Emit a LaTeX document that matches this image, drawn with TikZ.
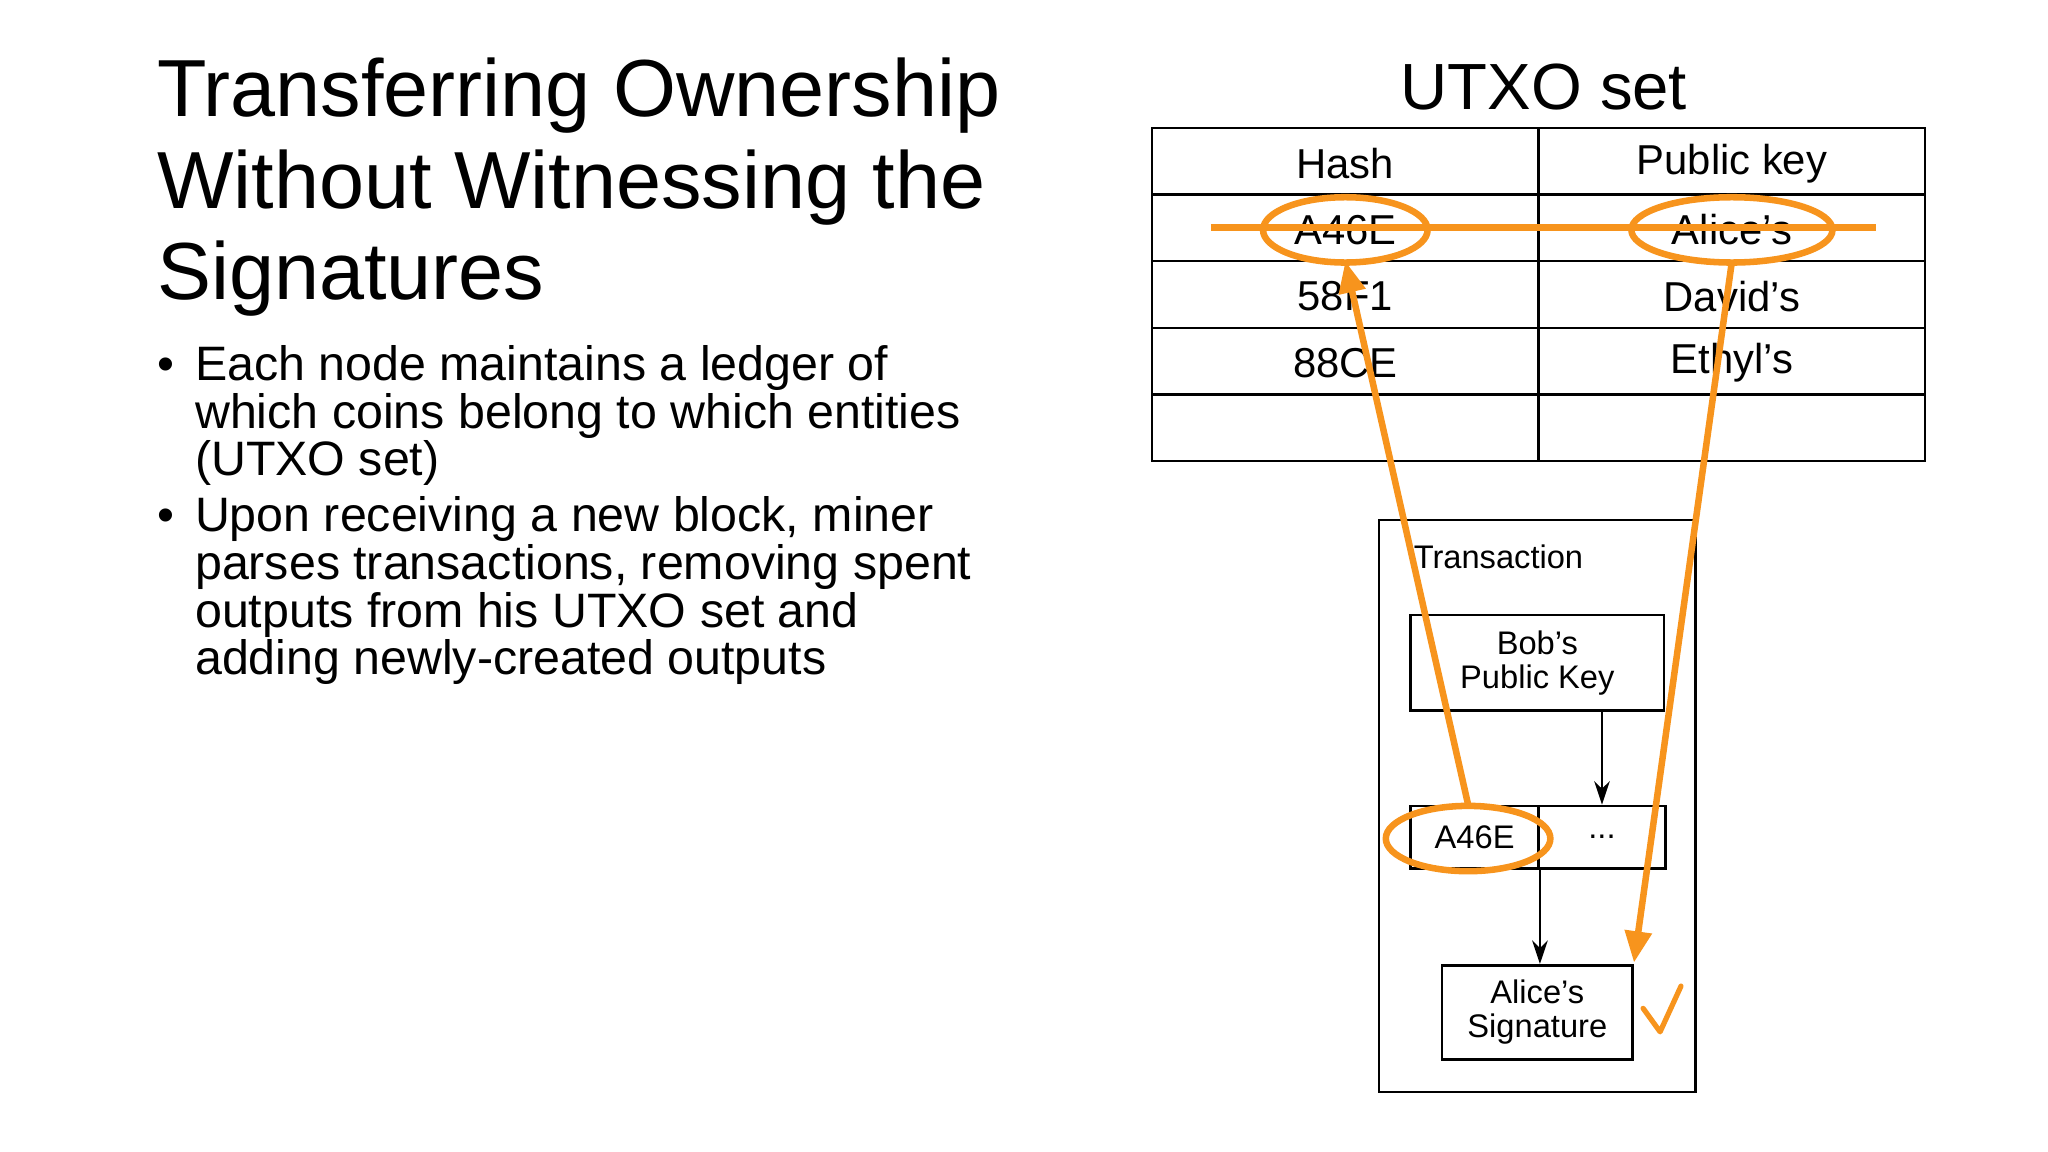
\documentclass[tikz,border=0pt]{standalone}
\usepackage{fontspec}
\setmainfont{Liberation Sans}
\usetikzlibrary{arrows.meta}
\definecolor{org}{HTML}{F7941D}
\tikzset{cell/.style={draw,thick,line width=1.2pt},
 box/.style={draw,line width=1pt,inner sep=0pt,align=center,font=\fontsize{12.5}{13}\selectfont},
 orl/.style={draw=org,line width=2.5pt},
 blk/.style={line width=0.8pt,-{Stealth[length=9pt,width=6pt]}}}
\begin{document}
\begin{tikzpicture}[x=0.5pt,y=-0.5pt]
\useasboundingbox (0,0) rectangle (1568,882);
\node[anchor=north west,align=left,inner sep=0pt,font=\fontsize{31}{35}\selectfont] (title) at (120,44) {Transferring Ownership\\Without Witnessing the\\Signatures};
\node[anchor=north west,align=left,inner sep=0pt,font=\fontsize{18.5}{16.5}\selectfont] (b1) at (120,264) {•\hspace{8pt}Each node maintains a ledger of\\\hspace{14.5pt}which coins belong to which entities\\\hspace{14.5pt}(UTXO set)};
\node[anchor=north west,align=left,inner sep=0pt,font=\fontsize{18.5}{16.5}\selectfont] (b2) at (120,380) {•\hspace{8pt}Upon receiving a new block, miner\\\hspace{14.5pt}parses transactions, removing spent\\\hspace{14.5pt}outputs from his UTXO set and\\\hspace{14.5pt}adding newly-created outputs};
\node[font=\fontsize{25}{28}\selectfont] (utxo) at (1182,67) {UTXO set};
\foreach \y in {98,149,200,251,302}{
 \draw[line width=0.9pt] (882,\y) rectangle (1178,\y+51);
 \draw[line width=0.9pt] (1178,\y) rectangle (1474,\y+51);}
\tikzset{tt/.style={font=\fontsize{16}{18}\selectfont}}
\node[tt] (h) at (1030,125) {Hash};
\node[tt] (pk) at (1326,125) {Public key};
\node[tt] (h1) at (1030,176) {A46E};
\node[tt] (p1) at (1326,176) {Alice’s};
\node[tt] (h2) at (1030,227) {58F1};
\node[tt] (p2) at (1326,227) {David’s};
\node[tt] (h3) at (1030,278) {88CE};
\node[tt] (p3) at (1326,278) {Ethyl's};
\draw[line width=0.9pt] (1056,398) rectangle (1298,836);
\node[anchor=west,font=\fontsize{12.5}{13}\selectfont,inner sep=0pt] (tx) at (1082,426) {Transaction};
\node[box,minimum width=97pt,minimum height=36.5pt] (bob) at (1177,507.5) {Bob's\\Public Key};
\node[box,minimum width=49pt,minimum height=24pt] (in) at (1129,641) {A46E};
\node[box,minimum width=48.5pt,minimum height=24pt] (dots) at (1226.5,641) {...};
\node[box,minimum width=73pt,minimum height=36pt] (sig) at (1177,775) {Alice's\\Signature};
\draw[blk] (bob.south -| dots) -- (dots.north);
\draw[blk] (in.south east) -- (in.south east |- sig.north);
% orange
\coordinate (l1) at (927,174); \coordinate (l2) at (1436,174);
\draw[orl] (l1) -- (l2);
\draw[orl] (h1) ellipse (63 and 25);
\draw[orl] (p1) ellipse (77 and 25);
\draw[orl] (1124,642) ellipse (63 and 25);
\coordinate (a1) at (1124,616); \coordinate (a2) at (1030,200);
\coordinate (c1) at (1326,200); \coordinate (c2) at (1251,737);
\draw[orl,-{Triangle[length=12pt,width=10pt]}] (a1) -- (a2);
\draw[orl,-{Triangle[length=12pt,width=10pt]}] (c1) -- (c2);
\draw[orl,line width=2pt,line cap=round,line join=round] (1258,772) -- (1271,790) -- (1287,755);
\end{tikzpicture}
\end{document}
